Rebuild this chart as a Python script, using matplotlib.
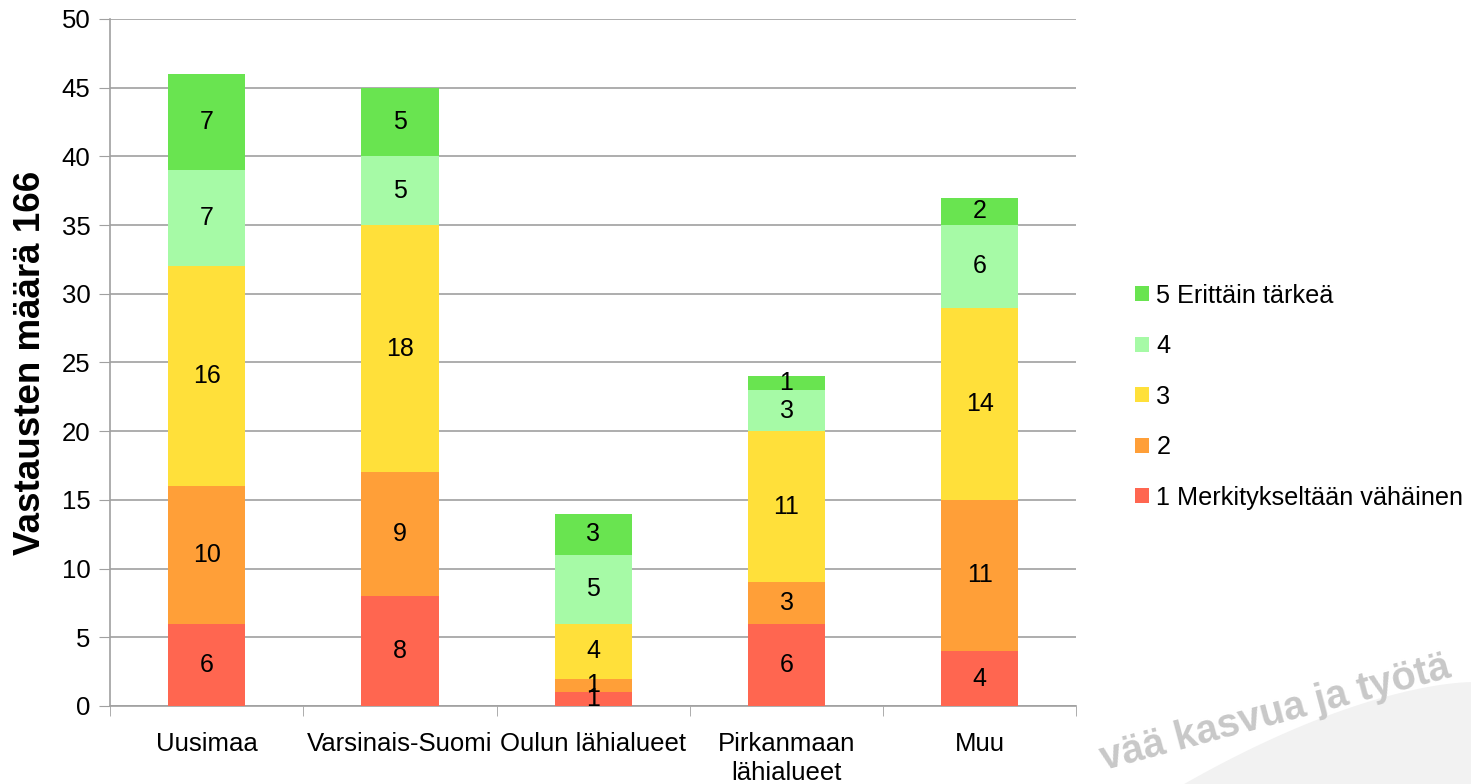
import matplotlib.pyplot as plt
import numpy as np
from matplotlib.patches import Polygon

plt.rcParams["font.family"] = ["Liberation Sans", "DejaVu Sans"]

categories = ["Uusimaa", "Varsinais-Suomi", "Oulun lähialueet", "Pirkanmaan\nlähialueet", "Muu"]
series_names = ["1 Merkitykseltään vähäinen", "2", "3", "4", "5 Erittäin tärkeä"]
values = [
    [6, 8, 1, 6, 4],
    [10, 9, 1, 3, 11],
    [16, 18, 4, 11, 14],
    [7, 5, 5, 3, 6],
    [7, 5, 3, 1, 2],
]
colors = ["#ff6650", "#ff9f38", "#ffe03a", "#a6faa6", "#69e450"]
y_label = "Vastausten määrä 166"
watermark = "vää kasvua ja työtä"

fig = plt.figure(figsize=(14.71, 7.84), dpi=100)

# light grey swoosh in the bottom-right corner (slide background)
t = np.linspace(0, 1, 50)
xs = 0.805 + 0.195 * t
ys = 0.0 + 0.13 * (1 - (1 - t) ** 1.6)
poly = Polygon(np.column_stack([np.r_[xs, 1.0], np.r_[ys, 0.0]]), closed=True,
               transform=fig.transFigure, facecolor="#f2f2f2", edgecolor="none", zorder=0)
fig.patches.append(poly)
fig.text(0.745, 0.008, watermark, rotation=15, fontsize=28.5, fontweight="bold",
         color="#c8c8c8", ha="left", va="bottom", zorder=0)

ax = fig.add_axes([0.0748, 0.0995, 0.657, 0.8763])
ax.set_facecolor("none")

x = np.arange(len(categories))
bottom = np.zeros(len(categories))
handles = []
for name, vals, col in zip(series_names, values, colors):
    vals = np.array(vals)
    bars = ax.bar(x, vals, width=0.4, bottom=bottom, color=col, label=name, zorder=3)
    handles.append(bars)
    for xi, b, v in zip(x, bottom, vals):
        ax.text(xi, b + v / 2, str(v), ha="center", va="center", fontsize=18, zorder=4)
    bottom += vals

ax.set_xlim(-0.5, len(categories) - 0.5)
ax.set_ylim(0, 50)
ax.set_yticks(range(0, 51, 5))
ax.set_xticks(x)
ax.set_xticklabels(categories, fontsize=18.5, linespacing=1.25)
ax.set_xticks(np.arange(-0.5, len(categories), 1), minor=True)
ax.tick_params(axis="x", which="major", length=0, pad=19)
ax.tick_params(axis="x", which="minor", length=7, color="#a0a0a0", direction="out")
ax.tick_params(axis="y", labelsize=18.5, length=8, color="#a0a0a0", direction="out", pad=6)
ax.grid(axis="y", color="#a0a0a0", linewidth=1.2, zorder=0)
for side in ["top", "right"]:
    ax.spines[side].set_visible(False)
for side in ["left", "bottom"]:
    ax.spines[side].set_color("#a0a0a0")
    ax.spines[side].set_linewidth(1.2)
ax.set_ylabel(y_label, fontsize=26.5, fontweight="bold", labelpad=10)

leg = fig.legend(handles[::-1], series_names[::-1], loc="center left",
                 bbox_to_anchor=(0.756, 0.494), frameon=False, fontsize=18.2,
                 handlelength=0.55, handleheight=0.55, handletextpad=0.3,
                 labelspacing=1.05)

fig.savefig("out.png", dpi=100)
